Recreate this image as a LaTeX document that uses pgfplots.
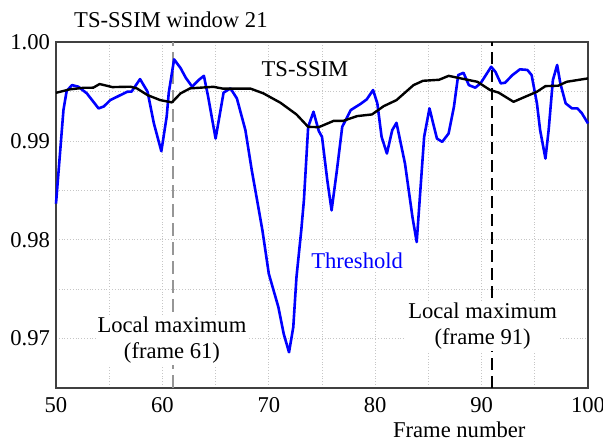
\documentclass[border=0pt]{standalone}
\usepackage{fontspec}
\setmainfont{Liberation Serif}
\usepackage{pgfplots}
\pgfplotsset{compat=1.18}
\definecolor{dashgray}{RGB}{150,150,150}
\begin{document}
\begin{tikzpicture}
\begin{axis}[
  scale only axis, width=266pt, height=172.7pt,
  xmin=50, xmax=100, ymin=0.965, ymax=1.0,
  xtick={50,60,70,80,90,100}, ytick={0.97,0.98,0.99,1.00},
  minor xtick={55,65,75,85,95}, minor ytick={0.975,0.985,0.995},
  grid=both,
  major grid style={densely dotted, gray!45, line width=0.4pt},
  minor grid style={densely dotted, gray!45, line width=0.4pt},
  major tick length=0pt, minor tick length=0pt,
  axis line style={black!75, line width=0.9pt},
  tick label style={font=\fontsize{11.3}{13}\selectfont},
  /pgf/number format/assume math mode=true,
  yticklabel style={xshift=0.5pt, /pgf/number format/fixed, /pgf/number format/fixed zerofill, /pgf/number format/precision=2},
  xticklabel style={yshift=-1.5pt},
  clip=false,
]
\coordinate (sw) at (rel axis cs:0,0);
\coordinate (ne) at (rel axis cs:1,1);
\addplot[dashgray, line width=1.2pt, dash pattern=on 6.5pt off 3pt] coordinates {(61,0.965) (61,1.0)};
\addplot[black, line width=1.2pt, dash pattern=on 6pt off 3pt] coordinates {(91,0.965) (91,1.0)};
\addplot[blue, line width=1.3pt, line join=round] table {
50.0 0.98365
50.7 0.99313
51.0 0.99506
51.5 0.99566
52.1 0.99550
52.9 0.99482
54.0 0.99330
54.5 0.99350
55.1 0.99414
56.7 0.99499
57.1 0.99500
57.9 0.99627
58.6 0.99500
59.2 0.99178
59.9 0.98896
60.4 0.99245
60.6 0.99490
61.1 0.99827
61.7 0.99740
62.2 0.99640
62.8 0.99550
63.4 0.99617
63.9 0.99660
64.3 0.99448
65.0 0.99025
65.75 0.99490
66.4 0.99533
67.0 0.99431
67.8 0.99110
68.4 0.98703
68.9 0.98400
69.4 0.98094
70.0 0.97655
70.9 0.97316
71.4 0.97046
71.9 0.96859
72.3 0.97113
72.6 0.97620
73.05 0.98094
73.3 0.98400
73.7 0.99143
74.2 0.99296
74.7 0.99100
75.0 0.99042
75.5 0.98600
75.9 0.98297
76.4 0.98703
76.9 0.99143
77.7 0.99313
78.6 0.99374
79.2 0.99421
79.8 0.99516
80.2 0.99381
80.6 0.99042
81.1 0.98873
81.6 0.99110
82.0 0.99184
82.8 0.98771
83.5 0.98230
83.9 0.97976
84.2 0.98433
84.6 0.99042
85.1 0.99330
85.8 0.99025
86.3 0.98991
86.9 0.99076
87.4 0.99347
87.8 0.99668
88.3 0.99691
88.8 0.99566
89.4 0.99540
89.9 0.99584
90.9 0.99752
91.3 0.99700
91.8 0.99584
92.2 0.99590
92.9 0.99668
93.6 0.99726
94.3 0.99720
94.7 0.99668
95.2 0.99381
95.5 0.99110
96.0 0.98822
96.3 0.99110
96.7 0.99617
97.1 0.99770
97.4 0.99584
97.9 0.99381
98.5 0.99330
99.0 0.99330
99.4 0.99285
100.0 0.99178
};
\addplot[black, line width=1.2pt, line join=round] table {
50.0 0.99488
51.3 0.99523
52.6 0.99539
53.5 0.99540
54.1 0.99577
55.3 0.99546
57.0 0.99550
57.6 0.99533
58.6 0.99465
59.8 0.99414
60.9 0.99391
61.7 0.99482
62.6 0.99533
64.8 0.99549
65.7 0.99530
68.3 0.99530
69.5 0.99482
71.1 0.99387
72.6 0.99269
73.7 0.99143
74.7 0.99140
76.1 0.99204
77.0 0.99204
78.3 0.99252
79.7 0.99269
80.8 0.99353
82.0 0.99414
83.6 0.99566
84.5 0.99610
86.0 0.99620
86.9 0.99660
88.5 0.99624
89.6 0.99600
90.8 0.99516
91.6 0.99490
93.0 0.99397
94.1 0.99448
95.2 0.99499
96.0 0.99556
97.2 0.99560
98.0 0.99600
100.0 0.99634
};
\node[font=\fontsize{11.3}{12.85}\selectfont] at (axis cs:60.8,1.00226) {TS-SSIM window 21};
\node[font=\fontsize{11.3}{12.85}\selectfont, fill=white, inner sep=1pt] at (axis cs:73.4,0.99726) {TS-SSIM};
\node[font=\fontsize{11.3}{12.85}\selectfont, text=blue, fill=white, inner sep=1pt] at (axis cs:78.3,0.9779) {Threshold};
\node[font=\fontsize{11.3}{12.85}\selectfont, align=center, fill=white, inner sep=1pt] at (axis cs:60.9,0.9698) {Local maximum\\(frame 61)};
\node[font=\fontsize{11.3}{12.85}\selectfont, align=center, fill=white, inner sep=1pt] at (axis cs:90.1,0.97128) {Local maximum\\(frame 91)};
\node[font=\fontsize{11.3}{12.85}\selectfont] at (axis cs:87.9,0.96075) {Frame number};
\end{axis}
\pgfresetboundingbox
\path[use as bounding box] ([shift={(-28pt,-26.65pt)}]sw) rectangle ([shift={(7.5pt,21.15pt)}]ne);
\end{tikzpicture}
\end{document}
